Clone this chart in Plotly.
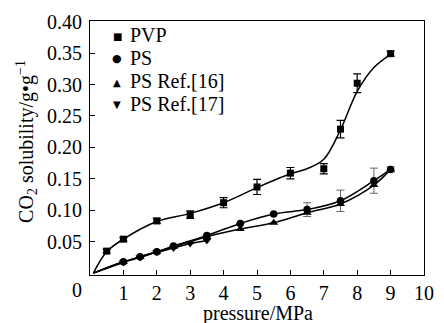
import plotly.graph_objects as go

# --- data ---
pvp_x = [0.5, 1, 2, 3, 4, 5, 6, 7, 7.5, 8, 9]
pvp_y = [0.035, 0.054, 0.083, 0.093, 0.112, 0.137, 0.159, 0.166, 0.229, 0.302, 0.349]
pvp_err = [0.003, 0.003, 0.004, 0.006, 0.008, 0.012, 0.009, 0.008, 0.014, 0.015, 0.004]

ps_x = [1, 1.5, 2, 2.5, 3.5, 4.5, 5.5, 6.5, 7.5, 8.5, 9]
ps_y = [0.018, 0.026, 0.034, 0.043, 0.060, 0.079, 0.094, 0.101, 0.115, 0.147, 0.165]
ps_err = [0, 0, 0, 0, 0, 0, 0, 0.011, 0.017, 0.020, 0.004]

ref16_x = [1, 1.5, 2, 2.5, 3.5, 4.5, 5.5, 6.5, 7.5, 8.5, 9]
ref16_y = [0.018, 0.026, 0.034, 0.042, 0.058, 0.070, 0.080, 0.096, 0.110, 0.140, 0.165]

ref17_x = [1, 1.5, 2, 2.5, 3, 3.5]
ref17_y = [0.017, 0.025, 0.033, 0.040, 0.047, 0.052]

# fitted curves
pvp_fit_x = [0.1, 0.5, 1, 2, 3, 4, 5, 6, 6.5, 7, 7.5, 8, 8.5, 9]
pvp_fit_y = [0.0, 0.034, 0.054, 0.082, 0.095, 0.112, 0.136, 0.158, 0.166, 0.181, 0.228, 0.289, 0.327, 0.348]
ps_fit_x = [0.1] + ps_x
ps_fit_y = [0.0] + ps_y
ref16_fit_x = [0.1] + ref16_x
ref16_fit_y = [0.0] + ref16_y
ref17_fit_x = [0.1] + ref17_x
ref17_fit_y = [0.0] + ref17_y

legend_names = ["PVP", "PS", "PS Ref.[16]", "PS Ref.[17]"]
legend_glyphs = ["\u25a0", "\u25cf", "\u25b2", "\u25bc"]
legend_glyph_sizes = [10, 11, 10, 10]

x_tickvals = [1, 2, 3, 4, 5, 6, 7, 8, 9, 10]
y_tickvals = [0.05, 0.10, 0.15, 0.20, 0.25, 0.30, 0.35, 0.40]
y_ticktext = ["0.05", "0.10", "0.15", "0.20", "0.25", "0.30", "0.35", "0.40"]

FONT = "Liberation Serif, Times New Roman, serif"
L, R, T, B, W, H = 90, 10, 21, 48, 444, 323
PW, PH = W - L - R, H - T - B


def px(xp):
    return (xp - L) / PW


def py(yp):
    return (H - B - yp) / PH


fig = go.Figure()

for fx, fy in [(pvp_fit_x, pvp_fit_y), (ps_fit_x, ps_fit_y),
               (ref16_fit_x, ref16_fit_y), (ref17_fit_x, ref17_fit_y)]:
    fig.add_trace(go.Scatter(x=fx, y=fy, mode="lines",
                             line=dict(color="black", width=1.5, shape="spline", smoothing=1.0),
                             showlegend=False, hoverinfo="skip"))

fig.add_trace(go.Scatter(x=pvp_x, y=pvp_y, mode="markers", name="PVP", showlegend=False,
                         marker=dict(symbol="square", size=7, color="black"),
                         error_y=dict(type="data", array=pvp_err, color="black", thickness=1.2, width=4)))
fig.add_trace(go.Scatter(x=ps_x, y=ps_y, mode="markers", name="PS", showlegend=False,
                         marker=dict(symbol="circle", size=7.5, color="black"),
                         error_y=dict(type="data", array=ps_err, color="#666666", thickness=1, width=4)))
fig.add_trace(go.Scatter(x=ref16_x, y=ref16_y, mode="markers", name="PS Ref.[16]", showlegend=False,
                         marker=dict(symbol="triangle-up", size=8, color="black")))
fig.add_trace(go.Scatter(x=ref17_x, y=ref17_y, mode="markers", name="PS Ref.[17]", showlegend=False,
                         marker=dict(symbol="triangle-down", size=8, color="black")))

annotations = []
leg_y = [35, 58, 81, 104]
for name, glyph, gs, yy in zip(legend_names, legend_glyphs, legend_glyph_sizes, leg_y):
    annotations.append(dict(text=glyph, xref="paper", yref="paper", x=px(118), y=py(yy + 1),
                            showarrow=False, xanchor="center", yanchor="middle",
                            font=dict(size=gs, family="DejaVu Sans")))
    annotations.append(dict(text=name, xref="paper", yref="paper", x=px(129), y=py(yy),
                            showarrow=False, xanchor="left", yanchor="middle", font=dict(size=20)))

annotations.append(dict(text="0", xref="paper", yref="paper", x=px(77), y=py(290), showarrow=False,
                        font=dict(size=20), xanchor="center", yanchor="middle"))
annotations.append(dict(text="pressure/MPa", xref="paper", yref="paper", x=px(263), y=py(313),
                        showarrow=False, font=dict(size=20), xanchor="center", yanchor="middle"))
annotations.append(dict(text="CO<sub>2</sub> solubility/g\u2022g<sup>\u22121</sup>", xref="paper", yref="paper",
                        x=px(25), y=py(141), textangle=-90, showarrow=False, font=dict(size=20),
                        xanchor="center", yanchor="middle"))

fig.update_layout(
    width=W, height=H,
    margin=dict(l=L, r=R, t=T, b=B),
    paper_bgcolor="white", plot_bgcolor="white",
    font=dict(family=FONT, size=20, color="black"),
    showlegend=False,
    xaxis=dict(range=[0, 10], tickvals=x_tickvals, ticks="inside", ticklen=5, tickcolor="black",
               showline=True, linecolor="black", linewidth=1.2, mirror=True, showgrid=False, zeroline=False),
    yaxis=dict(range=[-0.003, 0.401], tickvals=y_tickvals, ticktext=y_ticktext, ticks="inside", ticklen=5,
               tickcolor="black", showline=True, linecolor="black", linewidth=1.2, mirror=True,
               showgrid=False, zeroline=False, ticklabelstandoff=3),
    annotations=annotations,
)

fig.write_html("out.html")
